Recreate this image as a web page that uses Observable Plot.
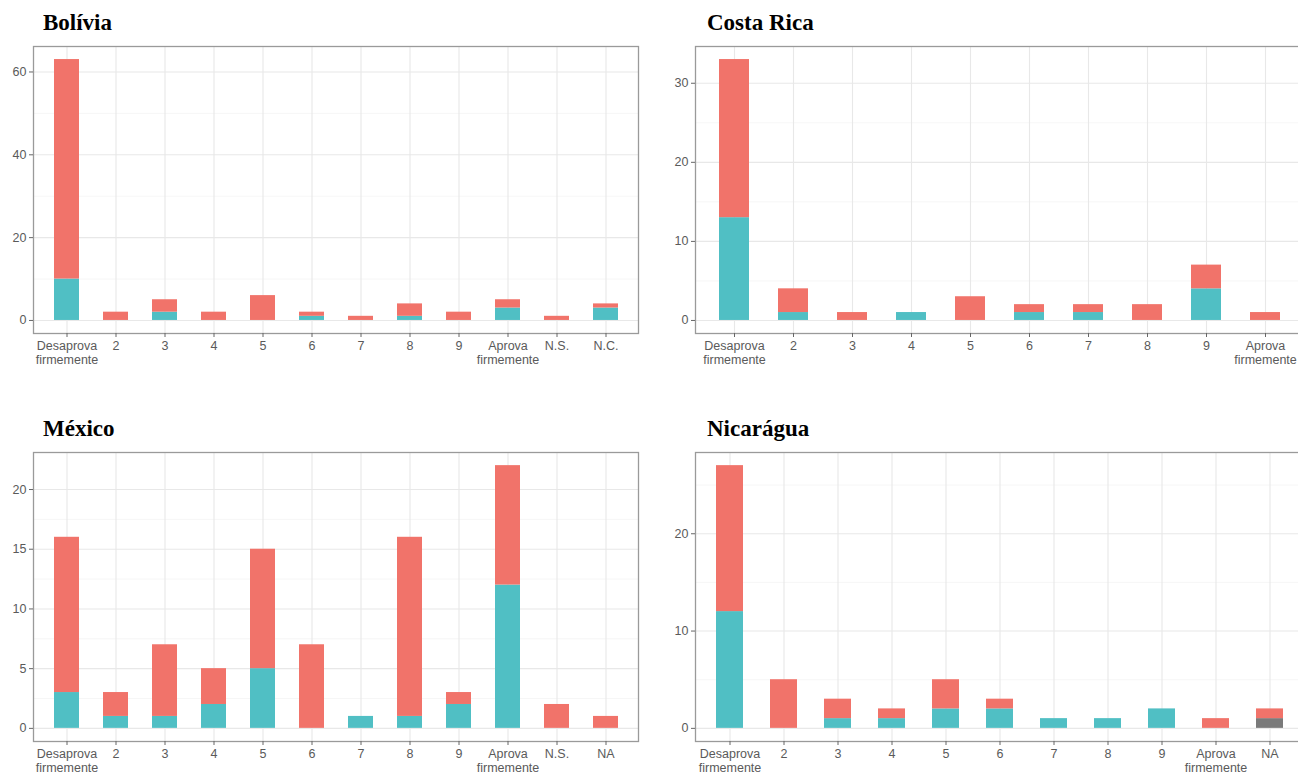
<!DOCTYPE html>
<html>
<head>
<meta charset="utf-8">
<script src="https://cdn.jsdelivr.net/npm/d3@7"></script>
<script src="https://cdn.jsdelivr.net/npm/@observablehq/plot@0.6"></script>
<style>
  html, body { margin: 0; padding: 0; background: #fff; overflow: hidden; width: 1298px; height: 776px; }
  #root { position: relative; width: 1298px; height: 776px; overflow: hidden; }
  .title { position: absolute; font-family: "Liberation Serif", "Times New Roman", serif; font-weight: bold; font-size: 23px; line-height: 1; color: #000; white-space: nowrap; }
  .panel { position: absolute; max-width: none !important; }
</style>
</head>
<body>
<div id="root"></div>
<script>
// ---------- data ----------
const seriesNames = ["A", "B", "NA"]; // A = red (top), B = teal (bottom), NA = grey
const seriesColors = ["#F1736A", "#50BFC4", "#7A7A7A"];

// Bolívia
const boliviaCats   = ["Desaprova firmemente","2","3","4","5","6","7","8","9","Aprova firmemente","N.S.","N.C."];
const boliviaRed    = [53, 2, 3, 2, 6, 1, 1, 3, 2, 2, 1, 1];
const boliviaTeal   = [10, 0, 2, 0, 0, 1, 0, 1, 0, 3, 0, 3];
const boliviaGrey   = [0, 0, 0, 0, 0, 0, 0, 0, 0, 0, 0, 0];
const boliviaTicks  = [0, 20, 40, 60];
const boliviaMinor  = [10, 30, 50];

// Costa Rica
const costaCats  = ["Desaprova firmemente","2","3","4","5","6","7","8","9","Aprova firmemente"];
const costaRed   = [20, 3, 1, 0, 3, 1, 1, 2, 3, 1];
const costaTeal  = [13, 1, 0, 1, 0, 1, 1, 0, 4, 0];
const costaGrey  = [0, 0, 0, 0, 0, 0, 0, 0, 0, 0];
const costaTicks = [0, 10, 20, 30];
const costaMinor = [5, 15, 25];

// México
const mexicoCats  = ["Desaprova firmemente","2","3","4","5","6","7","8","9","Aprova firmemente","N.S.","NA"];
const mexicoRed   = [13, 2, 6, 3, 10, 7, 0, 15, 1, 10, 2, 1];
const mexicoTeal  = [3, 1, 1, 2, 5, 0, 1, 1, 2, 12, 0, 0];
const mexicoGrey  = [0, 0, 0, 0, 0, 0, 0, 0, 0, 0, 0, 0];
const mexicoTicks = [0, 5, 10, 15, 20];
const mexicoMinor = [2.5, 7.5, 12.5, 17.5];

// Nicarágua
const nicaCats  = ["Desaprova firmemente","2","3","4","5","6","7","8","9","Aprova firmemente","NA"];
const nicaRed   = [15, 5, 2, 1, 3, 1, 0, 0, 0, 1, 1];
const nicaTeal  = [12, 0, 1, 1, 2, 2, 1, 1, 2, 0, 0];
const nicaGrey  = [0, 0, 0, 0, 0, 0, 0, 0, 0, 0, 1];
const nicaTicks = [0, 10, 20];
const nicaMinor = [5, 15, 25];

// ---------- drawing ----------
const root = document.getElementById("root");

function makePanel(cfg) {
  const rows = [];
  cfg.cats.forEach((c, i) => {
    // stacking order bottom → top: NA (grey), B (teal), A (red)
    rows.push({cat: c, group: "NA", value: cfg.grey[i]});
    rows.push({cat: c, group: "B", value: cfg.teal[i]});
    rows.push({cat: c, group: "A", value: cfg.red[i]});
  });
  const data = rows.filter(d => d.value > 0);
  const maxTotal = d3.max(cfg.cats, (c, i) => cfg.red[i] + cfg.teal[i] + cfg.grey[i]);
  const pad = maxTotal * 0.05;

  const chart = Plot.plot({
    width: cfg.width,
    height: cfg.height,
    marginLeft: cfg.marginLeft,
    marginRight: cfg.marginRight,
    marginTop: cfg.marginTop,
    marginBottom: cfg.marginBottom,
    style: {fontFamily: "'Liberation Sans', Arial, sans-serif", fontSize: "12.5px", color: "#5a5a5a", background: "transparent"},
    x: {type: "band", domain: cfg.cats, paddingInner: 0.5, paddingOuter: 0.35, align: 0.5},
    y: {domain: [-pad, maxTotal + pad]},
    color: {domain: seriesNames, range: seriesColors},
    marks: [
      Plot.gridY(cfg.minor, {stroke: "#f2f2f2", strokeOpacity: 1, strokeWidth: 0.7}),
      Plot.gridY(cfg.ticks, {stroke: "#e8e8e8", strokeOpacity: 1, strokeWidth: 1.1}),
      Plot.gridX({stroke: "#e8e8e8", strokeOpacity: 1, strokeWidth: 1.1}),
      Plot.barY(data, Plot.stackY({x: "cat", y: "value", fill: "group", order: ["NA", "B", "A"]})),
      Plot.frame({stroke: "#9a9a9a", strokeWidth: 1.3}),
      Plot.axisY(cfg.ticks, {tickSize: 4, tickPadding: 3, stroke: "#666", label: null, tickFormat: d => String(d)}),
      Plot.axisX({tickSize: 4, tickPadding: 3, stroke: "#666", label: null, lineHeight: 1.12,
                  tickFormat: d => d.replace(" firmemente", "\nfirmemente")})
    ]
  });
  chart.classList.add("panel");
  chart.style.left = cfg.left + "px";
  chart.style.top = cfg.top + "px";
  chart.style.maxWidth = "none";
  chart.style.width = cfg.width + "px";
  chart.style.height = cfg.height + "px";
  root.appendChild(chart);

  const t = document.createElement("div");
  t.className = "title";
  t.textContent = cfg.title;
  t.style.left = cfg.titleX + "px";
  t.style.top = cfg.titleY + "px";
  root.appendChild(t);
}

makePanel({title: "Bolívia", cats: boliviaCats, red: boliviaRed, teal: boliviaTeal, grey: boliviaGrey,
  ticks: boliviaTicks, minor: boliviaMinor,
  left: 0, top: 40, width: 650, height: 340, marginLeft: 33, marginRight: 12, marginTop: 6, marginBottom: 47,
  titleX: 43, titleY: 11});

makePanel({title: "Costa Rica", cats: costaCats, red: costaRed, teal: costaTeal, grey: costaGrey,
  ticks: costaTicks, minor: costaMinor,
  left: 650, top: 40, width: 660, height: 340, marginLeft: 45, marginRight: 7, marginTop: 6, marginBottom: 47,
  titleX: 707, titleY: 11});

makePanel({title: "México", cats: mexicoCats, red: mexicoRed, teal: mexicoTeal, grey: mexicoGrey,
  ticks: mexicoTicks, minor: mexicoMinor,
  left: 0, top: 446, width: 650, height: 342, marginLeft: 33, marginRight: 12, marginTop: 6, marginBottom: 47,
  titleX: 43, titleY: 417});

makePanel({title: "Nicarágua", cats: nicaCats, red: nicaRed, teal: nicaTeal, grey: nicaGrey,
  ticks: nicaTicks, minor: nicaMinor,
  left: 650, top: 446, width: 660, height: 342, marginLeft: 45, marginRight: 7, marginTop: 6, marginBottom: 47,
  titleX: 707, titleY: 417});
</script>
</body>
</html>
